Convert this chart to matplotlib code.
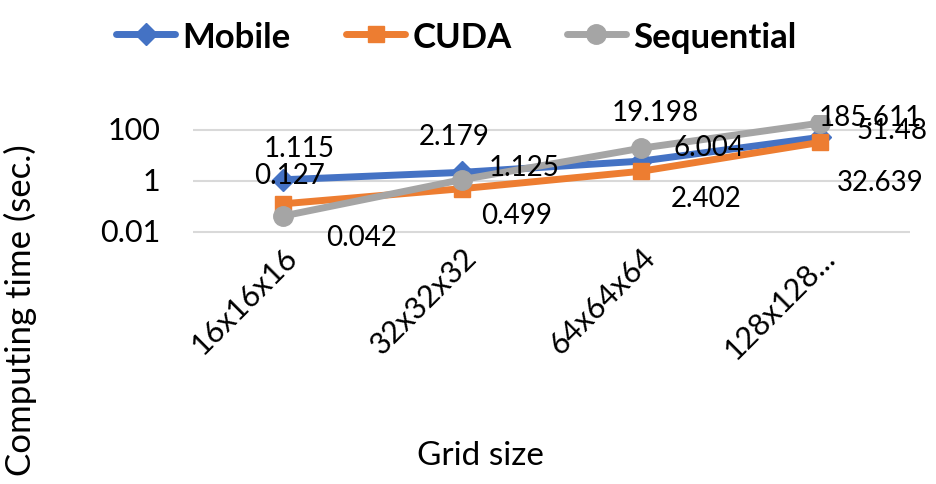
import numpy as np
import matplotlib.pyplot as plt

plt.rcParams['font.family'] = ['Lato', 'DejaVu Sans']

grids = ["16x16x16", "32x32x32", "64x64x64", "128x128..."]
mobile = [1.115, 2.179, 6.004, 51.48]
cuda = [0.127, 0.499, 2.402, 32.639]
sequential = [0.042, 1.125, 19.198, 185.611]
yticks = [0.01, 1, 100]
ytick_labels = ["0.01", "1", "100"]

# label offsets in pixels (dx, dy) for each series
off_mobile = [(17, 32), (-8, 36), (68, 14), (72, 7)]
off_cuda = [(7, 29), (55, -26), (65, -27), (60, -40)]
off_seq = [(79, -21), (62, 13), (14, 36), (50, 6)]

fig = plt.figure(figsize=(9.37, 4.85), dpi=100)
ax = fig.add_axes([0.206, 0.5037, 0.765, 0.258])
x = np.arange(len(grids))

series = [
    ("Mobile", mobile, "#4472C4", "D", 11, off_mobile),
    ("CUDA", cuda, "#ED7D31", "s", 12, off_cuda),
    ("Sequential", sequential, "#A5A5A5", "o", 14, off_seq),
]
for name, vals, col, mk, ms, offs in series:
    ax.plot(x, vals, color=col, marker=mk, markersize=ms, linewidth=5,
            label=name, solid_capstyle='round')
    for xi, v, (dx, dy) in zip(x, vals, offs):
        ax.annotate(f"{v:g}", (xi, v), xytext=(dx, dy), textcoords='offset pixels',
                    ha='center', va='center', fontsize=20, color='black')

ax.set_yscale('log')
ax.set_ylim(0.005, 400)
ax.set_xlim(-0.5, len(grids) - 0.5)
ax.set_yticks(yticks)
ax.set_yticklabels([])
ax.minorticks_off()
ax.yaxis.grid(True, color='#D9D9D9', linewidth=1.5)
ax.set_axisbelow(True)
for s in ax.spines.values():
    s.set_visible(False)
ax.tick_params(axis='both', length=0, labelsize=22)
ax.tick_params(axis='x', pad=2)
ax.set_xticks(x)
ax.set_xticklabels(grids, rotation=45, ha='right', rotation_mode='anchor')

# y tick labels placed a bit further from the plot area
ytrans = ax.get_yaxis_transform()
for v, lab in zip(yticks, ytick_labels):
    ax.annotate(lab, (0, v), xycoords=ytrans, xytext=(-33, 0), textcoords='offset pixels',
                ha='right', va='center', fontsize=22)

fig.text(0.513, 0.06, "Grid size", ha='center', va='center', fontsize=24)
fig.text(0.022, 0.36, "Computing time (sec.)", rotation=90, ha='center', va='center', fontsize=25)

fig.legend(loc='upper center', bbox_to_anchor=(0.487, 1.02), ncol=3, frameon=False,
           prop={'weight': 'bold', 'size': 25}, handlelength=1.7, columnspacing=1.6,
           handletextpad=0.2)

plt.savefig("out.png", dpi=100)
